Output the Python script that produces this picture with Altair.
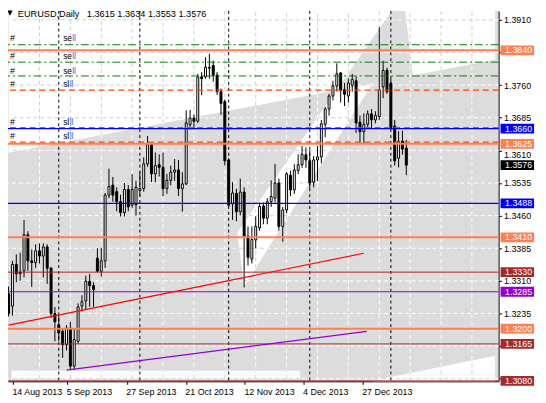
import altair as alt
import numpy as np
import pandas as pd

FONT = "Liberation Sans"

# ---------------- data ----------------
trade_dates = [d for d in pd.bdate_range("2013-08-14", "2014-01-08")
               if d.strftime("%m-%d") not in ("12-25", "01-01")]

opens = [1.3280,1.3252,1.3348,1.3330,1.3333,1.3416,1.3356,1.3352,1.3379,1.3367,
 1.3388,1.3339,1.3235,1.3209,1.3194,1.3163,1.3201,1.3114,1.3171,1.3252,
 1.3264,1.3309,1.3299,1.3362,1.3332,1.3356,1.3507,1.3530,1.3515,1.3492,
 1.3467,1.3520,1.3484,1.3485,1.3518,1.3522,1.3579,1.3623,1.3556,1.3577,
 1.3571,1.3522,1.3541,1.3560,1.3565,1.3522,1.3533,1.3669,1.3684,1.3677,
 1.3779,1.3779,1.3801,1.3805,1.3783,1.3745,1.3722,1.3588,1.3487,1.3511,
 1.3469,1.3514,1.3413,1.3360,1.3404,1.3432,1.3482,1.3454,1.3492,1.3500,
 1.3535,1.3435,1.3473,1.3553,1.3519,1.3564,1.3577,1.3600,1.3586,1.3537,
 1.3588,1.3595,1.3670,1.3705,1.3735,1.3758,1.3788,1.3750,1.3735,1.3760,
 1.3770,1.3675,1.3653,1.3670,1.3694,1.3680,1.3688,1.3756,1.3794,1.3764,
 1.3666,1.3592,1.3631,1.3615]
highs = [1.3297,1.3356,1.3371,1.3375,1.3450,1.3424,1.3382,1.3394,1.3396,1.3396,
 1.3394,1.3342,1.3250,1.3231,1.3201,1.3208,1.3216,1.3201,1.3258,1.3277,
 1.3322,1.3326,1.3307,1.3385,1.3386,1.3512,1.3568,1.3549,1.3525,1.3508,
 1.3535,1.3530,1.3555,1.3540,1.3560,1.3594,1.3643,1.3628,1.3605,1.3601,
 1.3605,1.3556,1.3575,1.3590,1.3588,1.3560,1.3702,1.3703,1.3692,1.3786,
 1.3790,1.3824,1.3832,1.3816,1.3790,1.3752,1.3727,1.3592,1.3537,1.3522,
 1.3545,1.3525,1.3435,1.3435,1.3458,1.3490,1.3490,1.3500,1.3541,1.3579,
 1.3545,1.3480,1.3560,1.3563,1.3578,1.3601,1.3620,1.3617,1.3610,1.3597,
 1.3620,1.3680,1.3710,1.3740,1.3770,1.3810,1.3790,1.3765,1.3775,1.3786,
 1.3780,1.3690,1.3695,1.3702,1.3705,1.3700,1.3893,1.3816,1.3800,1.3775,
 1.3680,1.3654,1.3655,1.3634]
lows = [1.3228,1.3230,1.3307,1.3310,1.3318,1.3333,1.3296,1.3340,1.3350,1.3318,
 1.3303,1.3225,1.3171,1.3171,1.3133,1.3150,1.3107,1.3105,1.3165,1.3240,
 1.3243,1.3250,1.3250,1.3330,1.3320,1.3340,1.3500,1.3492,1.3470,1.3458,
 1.3458,1.3470,1.3478,1.3460,1.3505,1.3515,1.3572,1.3537,1.3537,1.3550,
 1.3505,1.3510,1.3530,1.3540,1.3505,1.3469,1.3530,1.3658,1.3658,1.3673,
 1.3737,1.3775,1.3775,1.3768,1.3737,1.3692,1.3575,1.3481,1.3450,1.3447,
 1.3460,1.3295,1.3345,1.3350,1.3385,1.3425,1.3440,1.3440,1.3480,1.3490,
 1.3425,1.3400,1.3465,1.3505,1.3510,1.3555,1.3570,1.3570,1.3522,1.3525,
 1.3540,1.3580,1.3640,1.3690,1.3725,1.3745,1.3720,1.3712,1.3720,1.3745,
 1.3650,1.3625,1.3625,1.3660,1.3660,1.3672,1.3680,1.3730,1.3740,1.3657,
 1.3575,1.3571,1.3600,1.3553]
closes = [1.3235,1.3348,1.3326,1.3327,1.3416,1.3356,1.3352,1.3379,1.3367,1.3388,
 1.3339,1.3235,1.3216,1.3190,1.3163,1.3201,1.3114,1.3175,1.3250,1.3262,
 1.3309,1.3299,1.3290,1.3332,1.3356,1.3507,1.3527,1.3507,1.3492,1.3467,
 1.3520,1.3480,1.3520,1.3525,1.3522,1.3579,1.3623,1.3556,1.3575,1.3571,
 1.3522,1.3541,1.3560,1.3565,1.3522,1.3533,1.3673,1.3684,1.3677,1.3779,
 1.3775,1.3801,1.3799,1.3783,1.3745,1.3718,1.3586,1.3484,1.3512,1.3469,
 1.3514,1.3413,1.3364,1.3405,1.3435,1.3481,1.3454,1.3492,1.3504,1.3535,
 1.3435,1.3473,1.3556,1.3519,1.3565,1.3577,1.3601,1.3588,1.3535,1.3588,
 1.3595,1.3671,1.3705,1.3735,1.3758,1.3786,1.3748,1.3739,1.3765,1.3773,
 1.3673,1.3653,1.3670,1.3694,1.3680,1.3690,1.3749,1.3794,1.3745,1.3662,
 1.3586,1.3631,1.3613,1.3576]

# time-axis labels (bar position, text)
xtick_bars = [1.125, 15.2, 30.6, 45.9, 61.2, 76.4, 91.7]
xtick_labels = ["14 Aug 2013", "5 Sep 2013", "27 Sep 2013", "21 Oct 2013",
                "12 Nov 2013", "4 Dec 2013", "27 Dec 2013"]
# price-axis ticks (labels under the price tags are hidden / nudged)
ytick_prices = [round(1.3085 + 0.0075 * k, 4) for k in range(12)]
hidden_ticks = [1.3835, 1.3160, 1.3085]
nudged_ticks = [1.3610]
vgrid_bars = list(range(8, 121, 8))

# horizontal levels
coral_levels = [1.3840, 1.3625, 1.3410, 1.3200]
blue_levels = [1.3660, 1.3488]
brown_levels = [1.3330, 1.3165, 1.3080]
violet_levels = [1.3285]
green_levels = [1.38529, 1.38128, 1.37811]
orange_levels = [1.37487, 1.36620, 1.36290]

# order labels
label_prices = [1.38672, 1.38264, 1.37931, 1.37614, 1.36747, 1.36429]
label_heads = ["se", "se", "se", "sl", "sl", "sl"]

# trend lines (bar, price)
red_bars, red_prices = [0, 92], [1.32081, 1.33734]
violet_bars, violet_prices = [15, 92.75], [1.31046, 1.31938]

# shaded objects (bar, lower price, upper price)
top_bars, top_lo, top_hi = [0, 126], [1.36044, 1.38181], [1.3960, 1.3960]
wedge_bars = [84.93, 100.25, 102.5, 104.75]
wedge_lo = [1.37485, 1.37745, 1.37783, 1.37821]
wedge_hi = [1.37485, 1.39442, 1.39442, 1.37822]
band_bars = [59.25, 61, 84.93, 94.35]
band_lo = [1.34210, 1.32968, 1.36341, 1.37646]
band_hi = [1.34210, 1.34434, 1.37485, 1.37646]
strip_bars, strip_lo, strip_hi = [0.75, 75.5], [1.30842, 1.30842], [1.31032, 1.31032]
tri_bars, tri_lo, tri_hi = [94.25, 126], [1.3070, 1.3070], [1.30806, 1.31376]

# price tags on the right axis
tag_prices = [1.3840, 1.3660, 1.3625, 1.3576, 1.3488, 1.3410, 1.3330, 1.3285, 1.3200, 1.3165, 1.3080]
tag_colors = ["#FF7F50", "#0000FF", "#FF7F50", "#000000", "#0000FF", "#FF7F50",
              "#A52A2A", "#9400D3", "#FF7F50", "#A52A2A", "#A52A2A"]

# ---------------- scales / axes ----------------
W, H = 498, 376
X_LO, X_HI = 1.125, 125.625
P_LO, P_HI = 1.307896, 1.393060
unit = (P_HI - P_LO) / H  # price per pixel

xscale = alt.Scale(domain=[X_LO, X_HI], nice=False, zero=False)
yscale = alt.Scale(domain=[P_LO, P_HI], nice=False, zero=False)


def chain(vals, labs):
    expr = repr(labs[-1])
    for i in range(len(vals) - 2, -1, -1):
        mid = (vals[i] + vals[i + 1]) / 2
        expr = f"datum.value < {mid} ? '{labs[i]}' : ({expr})"
    return expr


def near_any(vals):
    return " || ".join(f"abs(datum.value - {v}) < 0.00001" for v in vals)


ylab_expr = f"({near_any(hidden_ticks)}) ? '' : format(datum.value, '.4f')"

xaxis = alt.Axis(values=xtick_bars, labelExpr=chain(xtick_bars, xtick_labels), title=None,
                 grid=False, tickSize=3, tickColor="black", domainColor="black",
                 labelFont=FONT, labelFontSize=9, labelColor="black", labelAlign="left",
                 labelBaseline="top", labelPadding=3, labelOffset=-1, labelFlush=False,
                 labelOverlap=False)
yaxis = alt.Axis(orient="right", values=ytick_prices, labelExpr=ylab_expr, title=None, grid=False,
                 tickSize=3, tickColor="black", domainColor="black", labelFont=FONT,
                 labelFontSize=9, labelColor="black", labelPadding=2, labelFlush=False,
                 labelOverlap=False,
                 labelBaseline={"condition": {"test": near_any(nudged_ticks), "value": "top"},
                                "value": "middle"})


def ex(f):
    return alt.X(f"{f}:Q", scale=xscale, axis=xaxis)


def ey(f):
    return alt.Y(f"{f}:Q", scale=yscale, axis=yaxis, stack=None)


# ---------------- frames ----------------
n = len(opens)
candles = pd.DataFrame({"bar": np.arange(n), "open": opens,
                        "high": highs, "low": lows, "close": closes})

month_first = [i for i in range(1, n) if trade_dates[i].month != trade_dates[i - 1].month]
seps = pd.DataFrame({"bar": month_first})


def region(xs, lo, hi):
    return pd.DataFrame({"b": xs, "lo": lo, "hi": hi})


def inside(b, p, xs, lo, hi):
    xs = np.asarray(xs, float)
    m = (b >= xs[0]) & (b <= xs[-1])
    return m & (p > np.interp(b, xs, lo)) & (p < np.interp(b, xs, hi))


def is_white(b, p):
    top = inside(b, p, top_bars, top_lo, top_hi) & ~inside(b, p, wedge_bars, wedge_lo, wedge_hi)
    return (top | inside(b, p, band_bars, band_lo, band_hi)
            | inside(b, p, strip_bars, strip_lo, strip_hi)
            | inside(b, p, tri_bars, tri_lo, tri_hi))


def runs(mask, coords):
    segs, start = [], None
    for i, m in enumerate(mask):
        if m and start is None:
            start = i
        if not m and start is not None:
            segs.append((coords[start], coords[i - 1]))
            start = None
    if start is not None:
        segs.append((coords[start], coords[-1]))
    return segs


bs = np.arange(X_LO, X_HI, 0.02)
hseg = []
for p in ytick_prices:
    for a, b in runs(is_white(bs, np.full_like(bs, p)), bs):
        hseg.append({"b1": a, "b2": b, "p": p})
ps = np.arange(P_LO, P_HI, 0.00002)
vseg = []
for bb in vgrid_bars:
    for a, b in runs(is_white(np.full_like(ps, bb), ps), ps):
        vseg.append({"b": bb, "p1": a, "p2": b})
hseg_df = pd.DataFrame(hseg)
vseg_df = pd.DataFrame(vseg)

trend_df = pd.DataFrame({"name": ["red", "red", "violet", "violet"],
                         "b": red_bars + violet_bars,
                         "p": red_prices + violet_prices,
                         "c": ["#FF0000", "#FF0000", "#9400D3", "#9400D3"]})

lab_df = pd.DataFrame({"p": label_prices, "t": label_heads})
tags = pd.DataFrame({"p": tag_prices, "c": tag_colors,
                     "top": [v + 5 * unit for v in tag_prices],
                     "bot": [v - 5 * unit for v in tag_prices],
                     "t": [f"{v:.4f}" for v in tag_prices]})

# ---------------- layers ----------------
layers = []
for xs, lo, hi in [(top_bars, top_lo, top_hi), (band_bars, band_lo, band_hi),
                   (strip_bars, strip_lo, strip_hi), (tri_bars, tri_lo, tri_hi)]:
    layers.append(alt.Chart(region(xs, lo, hi))
                  .mark_area(color="white", fill="white", clip=True, interpolate="linear", opacity=1)
                  .encode(x=ex("b"), y=ey("lo"), y2="hi"))
layers.append(alt.Chart(region(wedge_bars, wedge_lo, wedge_hi))
              .mark_area(color="#DCDCDC", fill="#DCDCDC", clip=True, interpolate="linear", opacity=1)
              .encode(x=ex("b"), y=ey("lo"), y2="hi"))
# grid
layers.append(alt.Chart(pd.DataFrame({"p": ytick_prices})).mark_rule(color="white", strokeDash=[4, 3], strokeWidth=1)
              .encode(y=ey("p")))
layers.append(alt.Chart(pd.DataFrame({"b": vgrid_bars})).mark_rule(color="white", strokeDash=[4, 3], strokeWidth=1)
              .encode(x=ex("b")))
layers.append(alt.Chart(hseg_df).mark_rule(color="#D0D0D0", strokeDash=[4, 3], strokeWidth=1)
              .encode(x=ex("b1"), x2="b2", y=ey("p")))
layers.append(alt.Chart(vseg_df).mark_rule(color="#D0D0D0", strokeDash=[4, 3], strokeWidth=1)
              .encode(x=ex("b"), y=ey("p1"), y2="p2"))
# month separators
layers.append(alt.Chart(seps).mark_rule(color="black", strokeDash=[3, 3], strokeWidth=1)
              .encode(x=ex("bar")))
# candles
layers.append(alt.Chart(candles).mark_rule(color="black", strokeWidth=1)
              .encode(x=ex("bar"), y=ey("low"), y2="high"))
layers.append(alt.Chart(candles).mark_bar(width=2, stroke="black", strokeWidth=1)
              .encode(x=ex("bar"), y=ey("open"), y2="close",
                      fill=alt.condition("datum.close >= datum.open", alt.value("white"), alt.value("black"))))
# levels
layers.append(alt.Chart(pd.DataFrame({"p": green_levels})).mark_rule(color="#008000", strokeDash=[8, 3, 2, 3], strokeWidth=1)
              .encode(y=ey("p")))
layers.append(alt.Chart(pd.DataFrame({"p": orange_levels})).mark_rule(color="#FF4500", strokeDash=[6, 4], strokeWidth=1.3)
              .encode(y=ey("p")))
layers.append(alt.Chart(pd.DataFrame({"p": coral_levels})).mark_rule(color="#FF7F50", strokeWidth=2)
              .encode(y=ey("p")))
layers.append(alt.Chart(pd.DataFrame({"p": blue_levels})).mark_rule(color="#0000FF", strokeWidth=1.2)
              .encode(y=ey("p")))
layers.append(alt.Chart(pd.DataFrame({"p": brown_levels})).mark_rule(color="#A52A2A", strokeWidth=1)
              .encode(y=ey("p")))
layers.append(alt.Chart(pd.DataFrame({"p": violet_levels})).mark_rule(color="#9400D3", strokeWidth=1.2)
              .encode(y=ey("p")))
layers.append(alt.Chart(trend_df).mark_line(clip=True, strokeWidth=1.2)
              .encode(x=ex("b"), y=ey("p"), detail="name:N", color=alt.Color("c:N", scale=None)))
# order labels
layers.append(alt.Chart(lab_df).mark_text(text="#", align="left", baseline="middle", font=FONT, fontSize=9, color="black")
              .encode(x=alt.value(2), y=ey("p")))
layers.append(alt.Chart(lab_df).mark_text(align="left", baseline="middle", font=FONT, fontSize=8.5, color="black")
              .encode(x=alt.value(56), y=ey("p"), text="t:N"))
layers.append(alt.Chart(lab_df).transform_filter("datum.t == 'se'")
              .mark_text(text="ll", align="left", baseline="middle", font=FONT, fontSize=8.5, color="#3070E0")
              .encode(x=alt.value(65.2), y=ey("p")))
layers.append(alt.Chart(lab_df).transform_filter("datum.t == 'sl'")
              .mark_text(text="ll", align="left", baseline="middle", font=FONT, fontSize=8.5, color="#3070E0")
              .encode(x=alt.value(62.6), y=ey("p")))
# header
hdr = pd.DataFrame({"a": ["EURUSD,Daily"],
                    "o": [f"{opens[-1]:.4f} {highs[-1]:.4f} {lows[-1]:.4f} {closes[-1]:.4f}"]})
layers.append(alt.Chart(hdr).mark_text(text="\u25BC", align="center", baseline="middle", font="DejaVu Sans",
                                       fontSize=7, color="black")
              .encode(x=alt.value(2), y=alt.value(2.5)))
layers.append(alt.Chart(hdr).mark_text(align="left", baseline="alphabetic", font=FONT, fontSize=9.3, color="black")
              .encode(x=alt.value(10), y=alt.value(6), text="a:N"))
layers.append(alt.Chart(hdr).mark_text(align="left", baseline="alphabetic", font=FONT, fontSize=9.3, color="black")
              .encode(x=alt.value(80), y=alt.value(6), text="o:N"))
# price tags
layers.append(alt.Chart(tags).mark_rect()
              .encode(x=alt.value(500), x2=alt.value(534), y=ey("top"), y2="bot",
                      color=alt.Color("c:N", scale=None)))
layers.append(alt.Chart(tags).mark_text(align="left", baseline="middle", font=FONT, fontSize=9, color="white")
              .encode(x=alt.value(504.5), y=ey("p"), text="t:N"))

chart = alt.layer(*layers).properties(
    width=W, height=H,
    autosize=alt.AutoSizeParams(type="none"),
    padding={"left": 0, "top": 0, "right": 40, "bottom": 18},
    background="white",
).configure_view(fill="#DCDCDC", strokeWidth=0)

chart.save("out.html", embed_options={"renderer": "svg", "actions": False})
